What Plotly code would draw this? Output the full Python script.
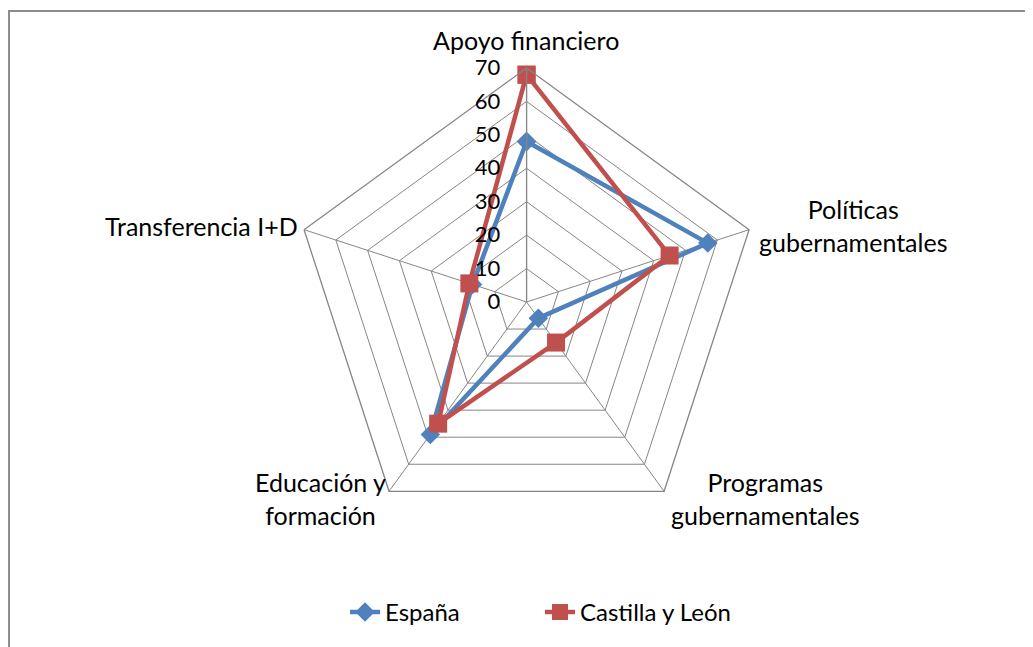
import plotly.graph_objects as go

categorias = ["Apoyo financiero", "Políticas gubernamentales", "Programas gubernamentales",
              "Educación y formación", "Transferencia I+D"]
etiquetas = ["Apoyo financiero", "Políticas<br>gubernamentales", "Programas<br>gubernamentales",
             "Educación y<br>formación", "Transferencia I+D"]
espana = [48, 57, 6, 49, 17]
castilla = [68, 45, 15, 45, 18]
radial_ticks = [0, 10, 20, 30, 40, 50, 60, 70]

FONT = "Lato, 'Open Sans', sans-serif"
W, H = 1033, 647

fig = go.Figure()
fig.add_trace(go.Scatterpolar(
    r=espana + espana[:1], theta=categorias + categorias[:1],
    mode="lines+markers", name="España",
    line=dict(color="#4F81BD", width=4.5),
    marker=dict(symbol="diamond", size=15, color="#4F81BD")
))
fig.add_trace(go.Scatterpolar(
    r=castilla + castilla[:1], theta=categorias + categorias[:1],
    mode="lines+markers", name="Castilla y León",
    line=dict(color="#C0504D", width=4.5),
    marker=dict(symbol="square", size=18, color="#C0504D")
))

# category label placement (pixel centres within the figure, converted to paper coords)
label_pos = [(518, 32), (845, 218), (757, 490), (312, 490), (193, 218)]
annotations = [
    dict(text=t, x=px / W, y=1 - py / H, xref="paper", yref="paper",
         xanchor="center", yanchor="middle", align="center", showarrow=False,
         font=dict(size=25))
    for t, (px, py) in zip(etiquetas, label_pos)
]

fig.update_layout(
    width=W, height=H,
    margin=dict(l=0, r=0, t=0, b=0),
    paper_bgcolor="white",
    font=dict(family=FONT, size=24, color="black"),
    polar=dict(
        domain=dict(x=[0.2755, 0.7285], y=[0.1839, 0.9073]),
        bgcolor="white",
        gridshape="linear",
        radialaxis=dict(
            range=[0, 70], tickvals=radial_ticks, angle=90, side="counterclockwise",
            tickangle=90,
            showline=True, linecolor="#868686", linewidth=1.3,
            gridcolor="#868686", gridwidth=1.3,
            ticks="outside", ticklen=18, tickcolor="rgba(0,0,0,0)",
            tickfont=dict(size=22),
        ),
        angularaxis=dict(
            direction="clockwise", rotation=90,
            showline=True, linecolor="#868686", linewidth=1.3,
            gridcolor="#868686", gridwidth=1.3,
            ticks="", showticklabels=False,
        ),
    ),
    annotations=annotations,
    showlegend=True,
    legend=dict(orientation="h", x=0.515, xanchor="center", y=0.066, yanchor="middle",
                font=dict(size=24), entrywidth=150),
    shapes=[
        dict(type="line", xref="paper", yref="paper", x0=0.0, x1=1.0, y0=0.9954, y1=0.9954,
             line=dict(color="#8C8C8C", width=2)),
        dict(type="line", xref="paper", yref="paper", x0=0.001, x1=0.001, y0=0.0, y1=0.9954,
             line=dict(color="#8C8C8C", width=2)),
    ],
)

fig.write_html("out.html")
